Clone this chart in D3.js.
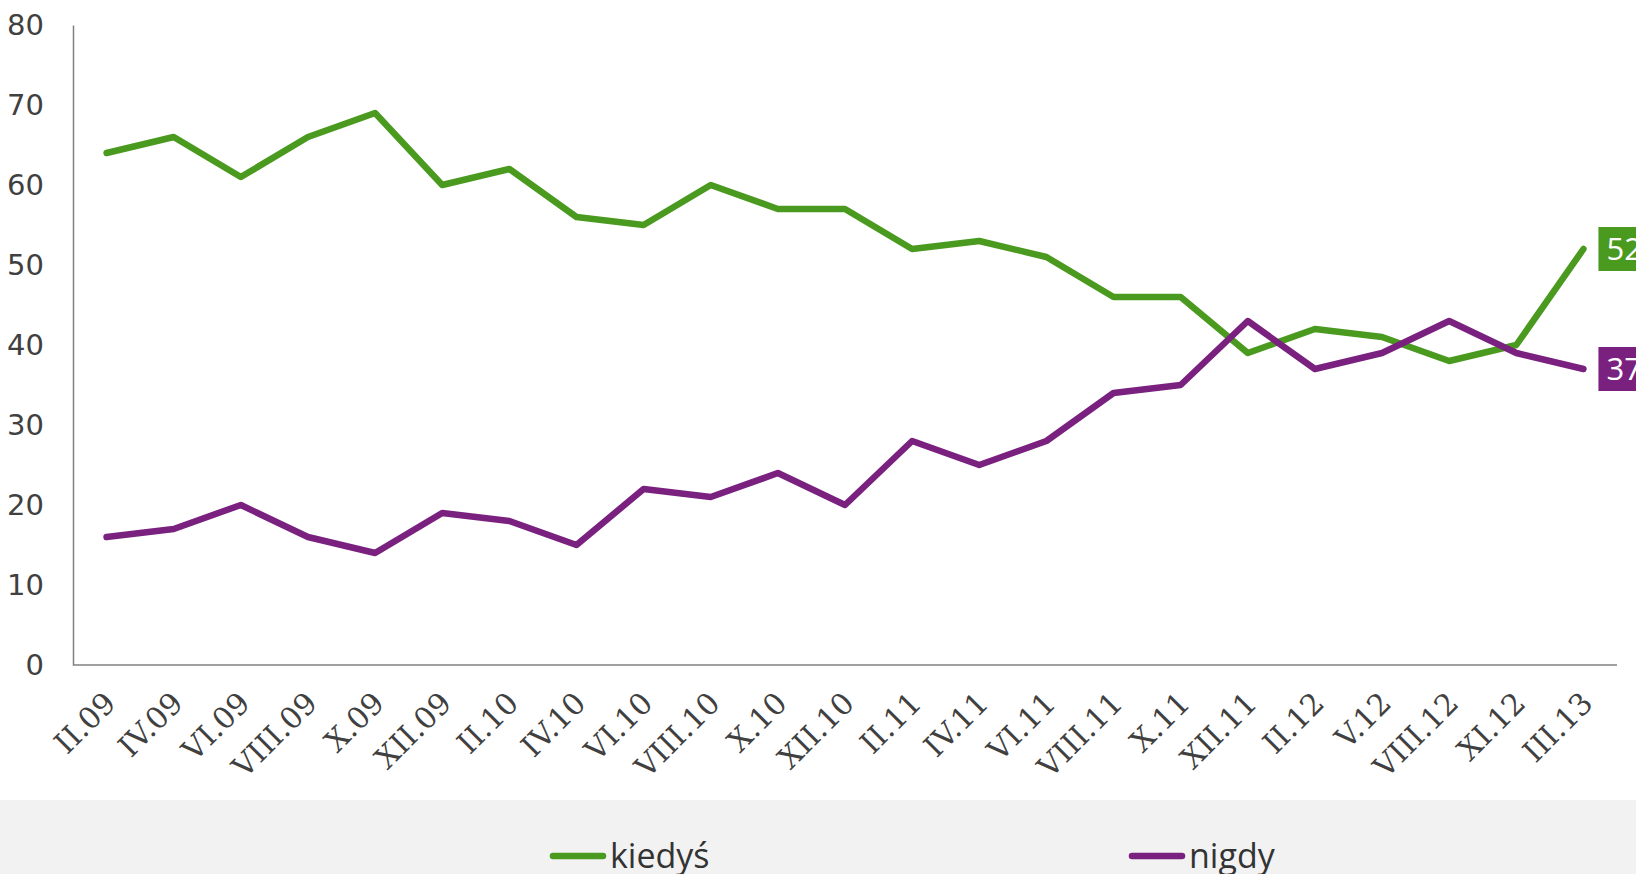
<!DOCTYPE html>
<html>
<head>
<meta charset="utf-8">
<script src="https://cdn.jsdelivr.net/npm/d3@7"></script>
<style>
  body { margin: 0; background: #fff; }
  svg { display: block; }
</style>
</head>
<body>
<div id="chart"></div>
<script>
const width = 1636;
const height = 874;

const periods = ['II.09', 'IV.09', 'VI.09', 'VIII.09', 'X.09', 'XII.09', 'II.10', 'IV.10', 'VI.10', 'VIII.10',
  'X.10', 'XII.10', 'II.11', 'IV.11', 'VI.11', 'VIII.11', 'X.11', 'XII.11', 'II.12', 'V.12', 'VIII.12', 'XI.12', 'III.13'];
const kiedys = [64, 66, 61, 66, 69, 60, 62, 56, 55, 60, 57, 57, 52, 53, 51, 46, 46, 39, 42, 41, 38, 40, 52];
const nigdy = [16, 17, 20, 16, 14, 19, 18, 15, 22, 21, 24, 20, 28, 25, 28, 34, 35, 43, 37, 39, 43, 39, 37];
const yTicks = [0, 10, 20, 30, 40, 50, 60, 70, 80];

const series = [
  { name: 'kiedyś', values: kiedys, color: '#4a9a1f', legendX: 553 },
  { name: 'nigdy', values: nigdy, color: '#7a2180', legendX: 1132 }
];

const plotLeft = 73, plotRight = 1617, plotTop = 25, plotBottom = 665;

const svg = d3.select('#chart').append('svg')
  .attr('width', width)
  .attr('height', height);

const x = d3.scalePoint().domain(periods).range([plotLeft, plotRight]).padding(0.5);
const y = d3.scaleLinear().domain([0, 80]).range([plotBottom, plotTop]);

// legend band
svg.append('rect')
  .attr('x', 0).attr('y', 800)
  .attr('width', width).attr('height', height - 800)
  .attr('fill', '#f2f2f2');

// y axis
const yAxis = svg.append('g')
  .attr('transform', `translate(${plotLeft},0)`)
  .call(d3.axisLeft(y).tickValues(yTicks).tickSize(0).tickPadding(29));
yAxis.select('.domain').attr('stroke', '#808080').attr('stroke-width', 1.5);
yAxis.selectAll('text')
  .attr('font-family', 'DejaVu Sans, Verdana, sans-serif')
  .attr('font-size', 29)
  .attr('fill', '#404040');

// x axis
const xAxis = svg.append('g')
  .attr('transform', `translate(0,${plotBottom})`)
  .call(d3.axisBottom(x).tickSize(0).tickFormat(''));
xAxis.select('.domain')
  .attr('stroke', '#808080').attr('stroke-width', 1.5)
  .attr('d', `M${plotLeft},0H${plotRight}`);

svg.append('g').selectAll('text')
  .data(periods)
  .join('text')
    .attr('transform', d => `translate(${x(d) + 11},${plotBottom + 40}) rotate(-45)`)
    .attr('text-anchor', 'end')
    .attr('font-family', 'DejaVu Serif, serif')
    .attr('font-size', 30)
    .attr('fill', '#404040')
    .text(d => d);

// lines
const line = d3.line()
  .x((d, i) => x(periods[i]))
  .y(d => y(d));

series.forEach(s => {
  svg.append('path')
    .datum(s.values)
    .attr('d', line)
    .attr('fill', 'none')
    .attr('stroke', s.color)
    .attr('stroke-width', 6.5)
    .attr('stroke-linejoin', 'round')
    .attr('stroke-linecap', 'round');

  // end label
  const last = s.values[s.values.length - 1];
  const lx = x(periods[periods.length - 1]) + 15;
  const ly = y(last);
  svg.append('rect')
    .attr('x', lx).attr('y', ly - 22)
    .attr('width', 60).attr('height', 44)
    .attr('fill', s.color);
  svg.append('text')
    .attr('x', lx + 8).attr('y', ly)
    .attr('dy', '0.36em')
    .attr('font-family', 'Open Sans, sans-serif')
    .attr('font-size', 31)
    .attr('fill', '#fff')
    .text(last);

  // legend
  svg.append('line')
    .attr('x1', s.legendX).attr('x2', s.legendX + 50)
    .attr('y1', 856).attr('y2', 856)
    .attr('stroke', s.color)
    .attr('stroke-width', 6.5)
    .attr('stroke-linecap', 'round');
  svg.append('text')
    .attr('x', s.legendX + 57).attr('y', 856)
    .attr('dy', '0.36em')
    .attr('font-family', 'Open Sans, sans-serif')
    .attr('font-size', 34)
    .attr('fill', '#333')
    .text(s.name);
});
</script>
</body>
</html>
